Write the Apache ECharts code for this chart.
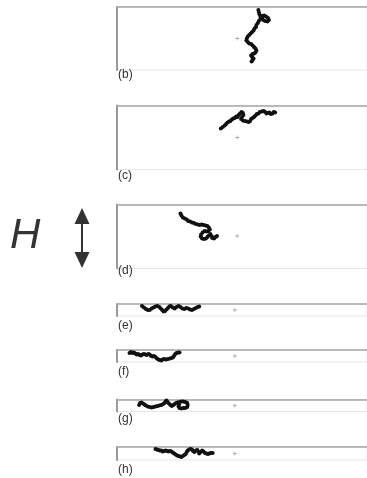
<!DOCTYPE html>
<html>
<head>
<meta charset="utf-8">
<script src="https://cdn.jsdelivr.net/npm/echarts@6/dist/echarts.min.js"></script>
<style>
html,body{margin:0;padding:0;background:#fff;}
#chart{width:367px;height:478px;}
</style>
</head>
<body>
<div id="chart"></div>
<script>
// Panel labels
const panelLabels = ['(b)', '(c)', '(d)', '(e)', '(f)', '(g)', '(h)'];

// Trajectories: displacement from the centre marker (x right, y up)
const trajB_x = [22,22.5,23,24,26,28,30,32,33,31.5,29,27,26,24,22.5,21.5,20,19.5,18,17,15.5,14,12.5,11,10,9.5,11,12.5,14.5,16,17.5,19,20,19,17.5,16,14.5,15.5,17,16,15];
const trajB_y = [28.5,26.5,24.5,22.5,22.5,23,22,20.5,18.5,17,17.5,18.5,20.5,19.5,17.5,15.5,13.5,11.5,10,8,6.5,5,3.5,2,0,-2,-3.5,-5,-5.5,-7,-8.5,-10,-12,-14,-15,-15.5,-17,-18.5,-20,-21.5,-23];

const trajC_x = [-17,-15,-13,-11.5,-10,-8.5,-7,-5.5,-4,-2.5,-1,0.5,1.5,3,4.5,6,6.5,5,4,6,8,10,12,13.5,14.5,16,17.5,19,20.5,22,23.5,25.5,27.5,29,30.5,32,33.5,35,36.5,38,39.5];
const trajC_y = [9,10.5,12,13.5,15,16,16.5,18,19,19.5,21,20.5,22.5,24,25.5,24.5,22.5,20.5,18.5,17,16.5,16,15.5,16.5,18.5,19.5,20.5,22,23.5,24,25.5,26,26.5,25.5,24,24.5,25,23.5,24,25.5,25];

const trajD_x = [-59,-58,-56.5,-54.5,-52.5,-51,-49,-47,-45,-43,-41,-39,-37,-35,-33,-31,-29.5,-28.5,-30,-32,-34,-36,-37.5,-38,-36.5,-34.5,-32.5,-31,-29.5,-28,-26.5,-26,-24,-22.5,-21];
const trajD_y = [22.5,20.5,18.5,17.5,16.5,15,14.5,13.5,13,12,11.5,11,11.5,11,10.5,10,8.5,6.5,5,4.5,5,3.5,1.5,-0.5,-2.5,-3,-2.5,-1,0.5,2,0,-2,-2.5,-1,0];

const trajE_x = [-96.5,-94.5,-92.5,-90.5,-88.5,-86.5,-84.5,-82.5,-80.5,-78.5,-77,-75.5,-74,-72.5,-71,-69.5,-68,-66.5,-64.5,-62.5,-60.5,-58.5,-56.5,-54.5,-52.5,-50.5,-48.5,-46.5,-44.5,-42.5,-40.5,-38.5,-37];
const trajE_y = [4,2.5,1,0,0,1.5,2.5,3.5,4,3,1.5,0,-1.5,-1,0.5,2,3.5,4,2.5,1.5,3,4,3,1.5,1,2,1.5,0.5,0,1,2,3,3.5];

const trajF_x = [-109.5,-108,-106.5,-105,-103.5,-102,-100.5,-99,-97.5,-96,-94.5,-93,-91.5,-90,-88.5,-87,-85.5,-84,-82.5,-81,-79.5,-78,-76.5,-75,-73.5,-71.5,-69.5,-67.5,-65.5,-64,-63,-62,-60.5,-59,-57.5];
const trajF_y = [3,4,3,3.5,2.5,1.5,2,1,0.5,1.5,2,1.5,1,2,1.5,0,-0.5,0,-1,-2.5,-3.5,-4,-4.5,-3.5,-3,-3.5,-3,-2.5,-2,-1,0.5,2,3,3.5,3.5];

const trajG_x = [-99.5,-98.5,-97,-95.5,-94,-92.5,-90.5,-88.5,-86.5,-84.5,-82.5,-80.5,-78.5,-76.5,-74.5,-73,-72,-71,-70,-68.5,-67,-65.5,-64,-62.5,-61,-59.5,-57.5,-55.5,-53.5,-51.5,-49.5,-49,-49.5,-51.5,-53.5,-55.5,-57.5,-58.5,-58];
const trajG_y = [0.5,2.5,3,2,1,0,-1,-1.5,-2,-1.5,-1,-0.5,0,0.5,1.5,2.5,4,5,3.5,2,0.5,-0.5,0.5,1.5,2.5,3,3.5,4,4,3.5,2.5,0.5,-1.5,-2.5,-2.5,-3,-2.5,-1,1];

const trajH_x = [-82.5,-81,-79.5,-78,-76.5,-75,-73.5,-72,-70.5,-69,-67.5,-66,-64.5,-63,-61.5,-60,-58.5,-57,-55.5,-54,-52.5,-51,-50,-49,-47.5,-46,-44.5,-43.5,-42,-40.5,-39,-38,-37,-35.5,-34,-32.5,-31,-29.5,-28,-26.5,-25,-23];
const trajH_y = [4.5,4,3.5,3,3,2,2.5,3,2.5,2,2.5,2,1,0,-1,-2,-2.5,-3,-3.5,-2.5,-1.5,-0.5,1.5,3,4,4.5,4,2.5,1.5,3,3.5,2,0,1.5,3,2,0.5,0,-0.5,0,0.5,0.5];

const trajXs = [trajB_x, trajC_x, trajD_x, trajE_x, trajF_x, trajG_x, trajH_x];
const trajYs = [trajB_y, trajC_y, trajD_y, trajE_y, trajF_y, trajG_y, trajH_y];

// Layout of the panels (pixels) and their axis extents
const layout = [
  {top: 7,     height: 63, xMin: -125,   xMax: 135,   yMin: -31.5, yMax: 31.5, labelY: 76},
  {top: 105.5, height: 64, xMin: -125,   xMax: 135,   yMin: -32,   yMax: 32,   labelY: 177},
  {top: 204.5, height: 64, xMin: -125,   xMax: 135,   yMin: -32.5, yMax: 31.5, labelY: 272},
  {top: 304,   height: 12, xMin: -122.5, xMax: 137.5, yMin: -6,    yMax: 6,    labelY: 327},
  {top: 350,   height: 12, xMin: -122.5, xMax: 137.5, yMin: -6,    yMax: 6,    labelY: 373},
  {top: 399.5, height: 12, xMin: -122.5, xMax: 137.5, yMin: -6,    yMax: 6,    labelY: 420},
  {top: 447,   height: 13, xMin: -122.5, xMax: 137.5, yMin: -6.5,  yMax: 6.5,  labelY: 471}
];

const grids = [], xAxes = [], yAxes = [], series = [], graphics = [];
layout.forEach((p, i) => {
  grids.push({left: 117, width: 260, top: p.top, height: p.height,
    show: true, borderColor: '#e6e6e6', borderWidth: 1, backgroundColor: '#fff'});
  xAxes.push({type: 'value', gridIndex: i, min: p.xMin, max: p.xMax, position: 'top',
    axisLine: {show: true, onZero: false, lineStyle: {color: '#a6a6a6', width: 1.5}},
    axisTick: {show: false}, axisLabel: {show: false}, splitLine: {show: false}});
  yAxes.push({type: 'value', gridIndex: i, min: p.yMin, max: p.yMax, position: 'left',
    axisLine: {show: true, onZero: false, lineStyle: {color: '#9a9a9a', width: 2}},
    axisTick: {show: false}, axisLabel: {show: false}, splitLine: {show: false}});
  series.push({type: 'scatter', xAxisIndex: i, yAxisIndex: i, data: [[0, 0]],
    symbol: 'path://M2,0H3V2H5V3H3V5H2V3H0V2H2Z', symbolSize: 4,
    itemStyle: {color: '#9a9a9a'}, silent: true, z: 3});
  series.push({type: 'line', xAxisIndex: i, yAxisIndex: i,
    data: trajXs[i].map((x, k) => [x, trajYs[i][k]]),
    showSymbol: true, showAllSymbol: true, symbol: 'circle', symbolSize: 4,
    itemStyle: {color: '#111'}, lineStyle: {color: '#111', width: 1.3},
    silent: true, z: 4});
  graphics.push({type: 'text', left: 118, top: p.labelY - 7,
    style: {text: panelLabels[i], fill: '#333', font: '12px "Liberation Sans", Arial, sans-serif'}});
});

// H label and double arrow
graphics.push({type: 'text', left: 10, top: 215,
  style: {text: 'H', fill: '#333', font: 'italic 42px "Liberation Sans", Arial, sans-serif'}});
graphics.push({type: 'line', shape: {x1: 82, y1: 220, x2: 82, y2: 256},
  style: {stroke: '#333', lineWidth: 2}});
graphics.push({type: 'polygon', shape: {points: [[82, 208], [74.5, 224], [89.5, 224]]},
  style: {fill: '#333'}});
graphics.push({type: 'polygon', shape: {points: [[82, 268], [74.5, 252], [89.5, 252]]},
  style: {fill: '#333'}});

const chart = echarts.init(document.getElementById('chart'), null, {renderer: 'canvas'});
chart.setOption({
  animation: false,
  backgroundColor: '#fff',
  grid: grids,
  xAxis: xAxes,
  yAxis: yAxes,
  series: series,
  graphic: graphics
});
</script>
</body>
</html>
